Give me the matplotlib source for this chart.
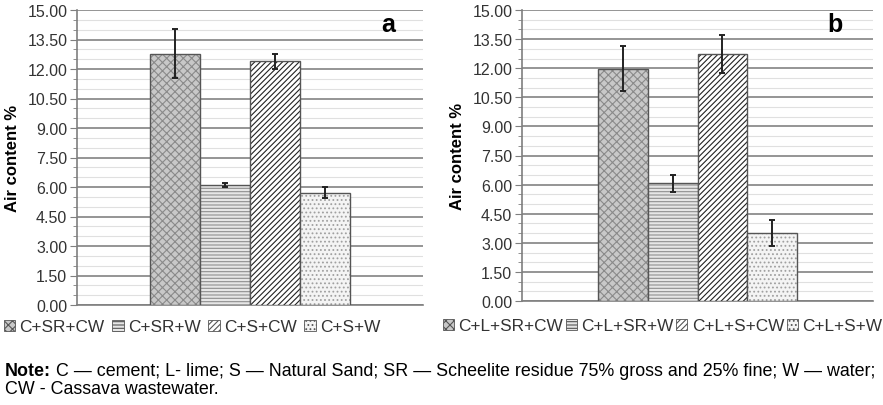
import matplotlib
matplotlib.use("Agg")
import matplotlib.pyplot as plt
from matplotlib.patches import Patch
from matplotlib.ticker import MultipleLocator, FormatStrFormatter

plt.rcParams['font.family'] = ['Liberation Sans', 'DejaVu Sans']
plt.rcParams['hatch.linewidth'] = 0.8

labels_a = ["C+SR+CW", "C+SR+W", "C+S+CW", "C+S+W"]
values_a = [12.78, 6.08, 12.40, 5.72]
errors_a = [1.25, 0.10, 0.38, 0.30]

labels_b = ["C+L+SR+CW", "C+L+SR+W", "C+L+S+CW", "C+L+S+W"]
values_b = [11.96, 6.07, 12.72, 3.50]
errors_b = [1.16, 0.43, 0.98, 0.65]

panel_letters = ["a", "b"]
ylabel = "Air content %"

face = ["#c8c8c8", "#e6e6e6", "#ffffff", "#f4f4f4"]
hatch = ["xxxx", "-----", "//////", "...."]
hcol = ["#8a8a8a", "#8f8f8f", "#222222", "#a0a0a0"]

fig = plt.figure(figsize=(8.83, 4.06), dpi=100)
W, H = 883, 406

def make(ax_box, labels, values, errors, letter, xhalf, leg_xy, leg_fs, colsp, letter_x):
    l, t, r, b = ax_box
    ax = fig.add_axes([l / W, 1 - b / H, (r - l) / W, (b - t) / H])
    x = list(range(len(values)))
    bars = ax.bar(x, values, width=1.0, color=face, edgecolor="#555555",
                  linewidth=1.0, zorder=3)
    for bar, h, hc in zip(bars, hatch, hcol):
        bar.set_hatch(h)
        bar._hatch_color = matplotlib.colors.to_rgba(hc)
    ax.errorbar(x, values, yerr=errors, fmt="none", ecolor="#222222",
                elinewidth=1.4, capsize=2.5, capthick=1.4, zorder=4)
    ax.set_xlim(1.5 - xhalf, 1.5 + xhalf)
    ax.set_ylim(0, 15)
    ax.yaxis.set_major_locator(MultipleLocator(1.5))
    ax.yaxis.set_minor_locator(MultipleLocator(0.5))
    ax.yaxis.set_major_formatter(FormatStrFormatter("%.2f"))
    ax.grid(which="major", axis="y", color="#8c8c8c", linewidth=1.3, zorder=0)
    ax.grid(which="minor", axis="y", color="#e0e0e0", linewidth=0.8, zorder=0)
    ax.set_axisbelow(True)
    ax.set_xticks([])
    for s in ["top", "right"]:
        ax.spines[s].set_visible(False)
    ax.spines["left"].set_color("#7f7f7f")
    ax.spines["bottom"].set_color("#7f7f7f")
    ax.spines["left"].set_linewidth(1.2)
    ax.spines["bottom"].set_linewidth(1.2)
    ax.tick_params(axis="y", which="major", length=5, color="#7f7f7f",
                   labelsize=11.5, labelcolor="#333333", pad=2)
    ax.tick_params(axis="y", which="minor", length=3, color="#7f7f7f")
    ax.set_ylabel(ylabel, fontsize=12, fontweight="bold", labelpad=5)
    ax.text(letter_x, 1 - 14 / (b - t), letter, transform=ax.transAxes, fontsize=18,
            fontweight="bold", ha="center", va="center")
    handles = [Patch(facecolor=f, edgecolor="#555555", hatch=h, linewidth=0.6)
               for f, h in zip(face, hatch)]
    leg = fig.legend(handles, labels, loc="center left",
                     bbox_to_anchor=(leg_xy[0] / W, 1 - leg_xy[1] / H),
                     ncol=4, frameon=False, fontsize=leg_fs, handlelength=0.65,
                     handleheight=0.65, handletextpad=0.25, columnspacing=colsp,
                     borderpad=0, borderaxespad=0)
    for t_ in leg.get_texts():
        t_.set_color("#333333")
    return ax

make((77, 11, 423, 306), labels_a, values_a, errors_a, panel_letters[0], 3.46,
     (4, 328), 12.4, 0.45, 0.899)
make((522, 11, 873, 302), labels_b, values_b, errors_b, panel_letters[1], 3.545,
     (443, 327), 12.4, 0.15, 0.892)

note_fs = 12.9
note_bold = fig.text(5 / W, 1 - 372 / H, "Note:", fontsize=note_fs, fontweight="bold",
                     va="center", ha="left")
rest1 = ("C \u2014 cement; L- lime; S \u2014 Natural Sand; SR \u2014 Scheelite residue 75% "
         "gross and 25% fine; W \u2014 water;")
fig.canvas.draw()
plt.annotate(" " + rest1, xy=(1, 0.5), xycoords=note_bold, fontsize=note_fs,
             va="center", ha="left", annotation_clip=False)
fig.text(5 / W, 1 - 390 / H, "CW - Cassava wastewater.", fontsize=note_fs,
         va="center", ha="left")

fig.savefig("out.png", dpi=100)
